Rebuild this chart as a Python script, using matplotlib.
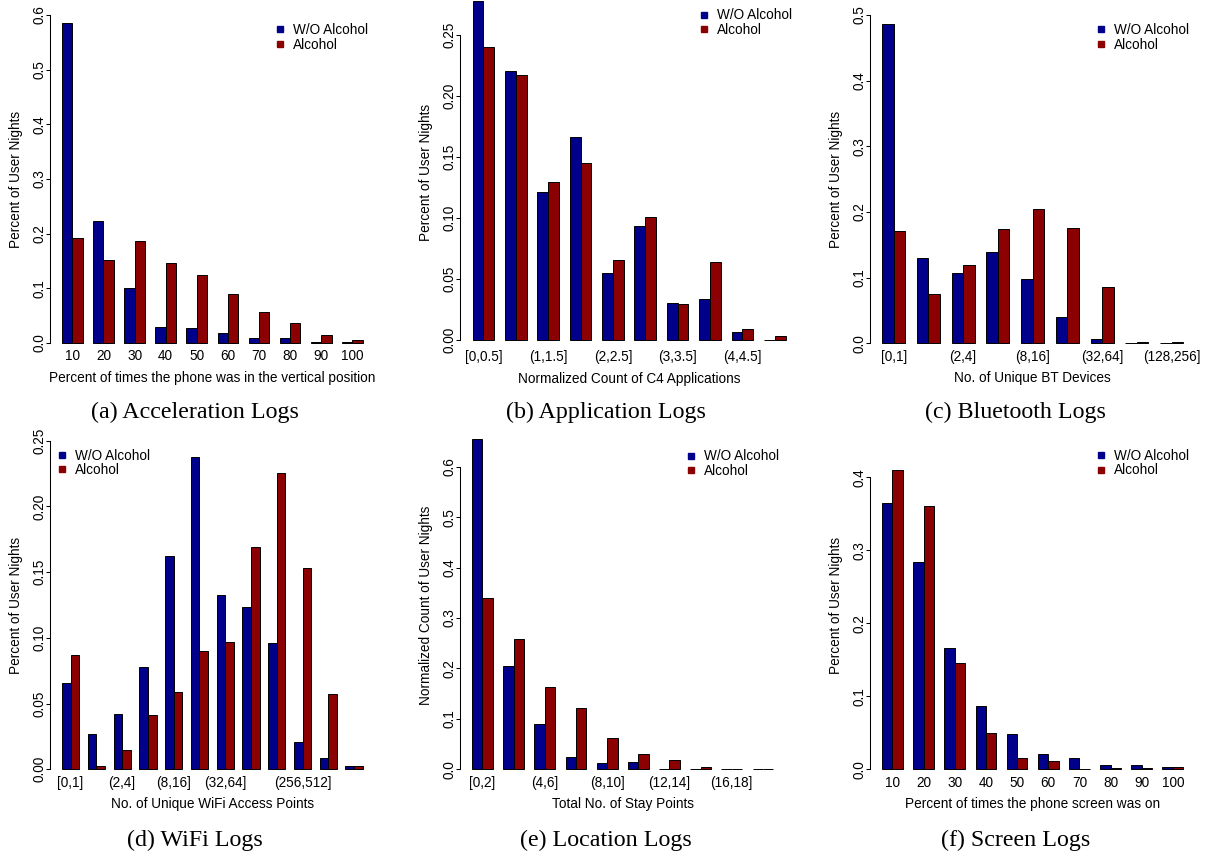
import numpy as np
import matplotlib
matplotlib.use("Agg")
import matplotlib.pyplot as plt
from matplotlib.lines import Line2D

plt.rcParams['font.family'] = ['Liberation Sans', 'DejaVu Sans']

# ---------------- data ----------------
accel_labels = ['10', '20', '30', '40', '50', '60', '70', '80', '90', '100']
accel_no = [0.586, 0.224, 0.100, 0.030, 0.027, 0.018, 0.009, 0.009, 0.001, 0.001]
accel_yes = [0.192, 0.152, 0.186, 0.146, 0.124, 0.090, 0.057, 0.036, 0.015, 0.006]

app_labels = ['[0,0.5]', '', '(1,1.5]', '', '(2,2.5]', '', '(3,3.5]', '', '(4,4.5]', '']
app_no = [0.2776, 0.2203, 0.1209, 0.1662, 0.0546, 0.0936, 0.0306, 0.0333, 0.0066, 0.0003]
app_yes = [0.2402, 0.2167, 0.1296, 0.1447, 0.0652, 0.1004, 0.0297, 0.0636, 0.0090, 0.0033]

bt_labels = ['[0,1]', '', '(2,4]', '', '(8,16]', '', '(32,64]', '', '(128,256]']
bt_no = [0.4863, 0.1305, 0.1066, 0.1396, 0.0975, 0.0401, 0.0066, 0.0005, 0.0005]
bt_yes = [0.1706, 0.0746, 0.1188, 0.1736, 0.2046, 0.1761, 0.0863, 0.0020, 0.0020]

wifi_labels = ['[0,1]', '', '(2,4]', '', '(8,16]', '', '(32,64]', '', '', '(256,512]', '', '']
wifi_no = [0.0659, 0.0269, 0.0418, 0.0781, 0.1625, 0.2378, 0.1324, 0.1232, 0.0963, 0.0208, 0.0089, 0.0025]
wifi_yes = [0.0867, 0.0025, 0.0145, 0.0411, 0.0586, 0.0898, 0.0971, 0.1691, 0.2252, 0.1531, 0.0573, 0.0025]

stay_labels = ['[0,2]', '', '(4,6]', '', '(8,10]', '', '(12,14]', '', '(16,18]', '']
stay_no = [0.6549, 0.2049, 0.0905, 0.0238, 0.0119, 0.0145, 0.0005, 0.0005, 0.0, 0.0]
stay_yes = [0.3390, 0.2577, 0.1632, 0.1222, 0.0615, 0.0297, 0.0185, 0.0053, 0.0005, 0.0013]

screen_labels = ['10', '20', '30', '40', '50', '60', '70', '80', '90', '100']
screen_no = [0.3648, 0.2836, 0.1658, 0.0872, 0.0479, 0.0210, 0.0151, 0.0055, 0.0055, 0.0027]
screen_yes = [0.4096, 0.3607, 0.1452, 0.0502, 0.0160, 0.0114, 0.0005, 0.0014, 0.0014, 0.0027]

series_names = ['W/O Alcohol', 'Alcohol']
series_colors = ['#00008B', '#8B0000']

# ---------------- layout ----------------
W, H = 1209, 857
DPI = 100
FS = 9.85
fig = plt.figure(figsize=(W / DPI, H / DPI), dpi=DPI)
fig.patch.set_facecolor('white')

def px2pt(p):
    return p * 72.0 / DPI

# each panel: data, labels, axis titles, y ticks, and its pixel frame
panels = [
    dict(no=accel_no, yes=accel_yes, labels=accel_labels,
         xlabel='Percent of times the phone was in the vertical position',
         ylabel='Percent of User Nights', yticks=np.arange(0, 0.61, 0.1), fmt='%.1f',
         yrange=(0, 0.6), left=50, right=374.7, y0=343.0, ppv=546.67,
         legend='right', caption='(a) Acceleration Logs', cap=(195, 417.7)),
    dict(no=app_no, yes=app_yes, labels=app_labels,
         xlabel='Normalized Count of C4 Applications',
         ylabel='Percent of User Nights', yticks=np.arange(0, 0.26, 0.05), fmt='%.2f',
         yrange=None, left=460, right=798.2, y0=340.0, ppv=1221.2,
         legend='right', caption='(b) Application Logs', cap=(605.5, 417.7)),
    dict(no=bt_no, yes=bt_yes, labels=bt_labels,
         xlabel='No. of Unique BT Devices',
         ylabel='Percent of User Nights', yticks=np.arange(0, 0.51, 0.1), fmt='%.1f',
         yrange=(0, 0.5), left=870, right=1195.3, y0=343.3, ppv=656.6,
         legend='right', caption='(c) Bluetooth Logs', cap=(1015.3, 417.7)),
    dict(no=wifi_no, yes=wifi_yes, labels=wifi_labels,
         xlabel='No. of Unique WiFi Access Points',
         ylabel='Percent of User Nights', yticks=np.arange(0, 0.26, 0.05), fmt='%.2f',
         yrange=(0, 0.25), left=50, right=374.7, y0=769.3, ppv=1314.4,
         legend='left', caption='(d) WiFi Logs', cap=(195, 846.0)),
    dict(no=stay_no, yes=stay_yes, labels=stay_labels,
         xlabel='Total No. of Stay Points',
         ylabel='Normalized Count of User Nights', yticks=np.arange(0, 0.61, 0.1), fmt='%.1f',
         yrange=(0, 0.65), left=460, right=785.4, y0=769.3, ppv=504.3,
         legend='right', caption='(e) Location Logs', cap=(605.5, 846.0)),
    dict(no=screen_no, yes=screen_yes, labels=screen_labels,
         xlabel='Percent of times the phone screen was on',
         ylabel='Percent of User Nights', yticks=np.arange(0, 0.41, 0.1), fmt='%.1f',
         yrange=(0, 0.45), left=870, right=1195.3, y0=769.3, ppv=730.0,
         legend='right', caption='(f) Screen Logs', cap=(1015.3, 846.0)),
]

for p in panels:
    no = np.asarray(p['no'])
    yes = np.asarray(p['yes'])
    n = len(no)

    # grouped bars: a gap of one bar width before each pair
    x_no = 1 + 3 * np.arange(n)
    x_yes = x_no + 1
    centers = x_no + 1
    span = 3 * n - 1
    xlo, xhi = 1 - 0.04 * span, 3 * n + 0.04 * span

    if p['yrange'] is None:
        m = max(no.max(), yes.max())
        lo, hi = -0.01 * m, m
    else:
        lo, hi = p['yrange']
    ylo, yhi = lo - 0.04 * (hi - lo), hi + 0.04 * (hi - lo)

    bottom_px = p['y0'] - ylo * p['ppv']
    top_px = p['y0'] - yhi * p['ppv']
    l, r = p['left'], p['right']
    ax = fig.add_axes([l / W, 1 - bottom_px / H, (r - l) / W, (bottom_px - top_px) / H])
    ax.set_xlim(xlo, xhi)
    ax.set_ylim(ylo, yhi)

    ax.bar(x_no, no, width=1, align='edge', color=series_colors[0],
           edgecolor='black', linewidth=0.7)
    ax.bar(x_yes, yes, width=1, align='edge', color=series_colors[1],
           edgecolor='black', linewidth=0.7)

    for s in ['top', 'right', 'bottom']:
        ax.spines[s].set_visible(False)
    ax.spines['left'].set_linewidth(0.75)
    ax.spines['left'].set_bounds(p['yticks'][0], p['yticks'][-1])

    # y axis: rotated tick labels
    ax.set_yticks(p['yticks'])
    ax.set_yticklabels([p['fmt'] % v for v in p['yticks']])
    ax.tick_params(axis='y', direction='out', length=px2pt(4), width=0.75,
                   pad=px2pt(6.7), labelsize=FS)
    for lab in ax.get_yticklabels():
        lab.set_rotation(90)
        lab.set_rotation_mode('default')
        lab.set_ha('center')
        lab.set_va('center')

    # x axis: group names only
    ax.set_xticks(centers)
    ax.set_xticklabels(p['labels'])
    ax.tick_params(axis='x', length=0, pad=px2pt(0.3), labelsize=FS)
    for lab in ax.get_xticklabels():
        lab.set_va('center')

    hpx = bottom_px - top_px
    wpx = r - l
    ax.set_xlabel(p['xlabel'], fontsize=FS)
    ax.xaxis.set_label_coords(0.5, -22.0 / hpx)
    ax.xaxis.label.set_va('center')
    ax.set_ylabel(p['ylabel'], fontsize=FS)
    ax.yaxis.set_label_coords(-34.0 / wpx, 0.5)
    ax.yaxis.label.set_va('center')

    handles = [Line2D([], [], linestyle='none', marker='s', markersize=px2pt(5.8),
                      markerfacecolor=c, markeredgecolor=c) for c in series_colors]
    leg_top = top_px + 21.0
    if p['legend'] == 'right':
        anchor = ((r - 6.4) / W, 1 - leg_top / H)
        loc = 'upper right'
    else:
        anchor = ((l + 6.2) / W, 1 - leg_top / H)
        loc = 'upper left'
    ax.legend(handles, series_names, loc=loc, bbox_to_anchor=anchor,
              bbox_transform=fig.transFigure, frameon=False, fontsize=FS,
              borderpad=0, borderaxespad=0, handlelength=0.8, handletextpad=0.55,
              labelspacing=0.05)

    fig.text(p['cap'][0] / W, 1 - p['cap'][1] / H, p['caption'],
             ha='center', va='baseline', fontsize=17.3,
             family=['Liberation Serif', 'DejaVu Serif'])

fig.savefig('out.png', dpi=DPI, facecolor='white')
